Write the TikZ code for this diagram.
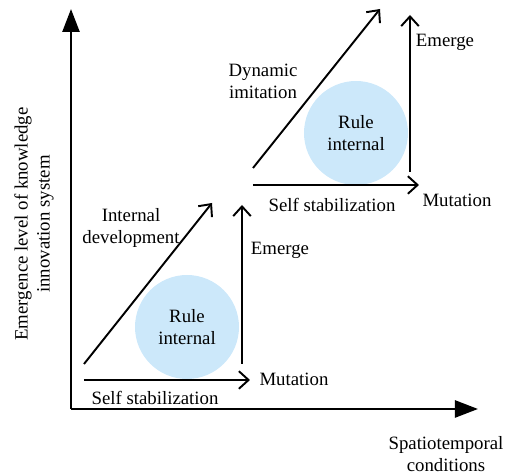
\documentclass[tikz,border=0pt]{standalone}
\usepackage{fontspec}
\setmainfont{Liberation Serif}
\usetikzlibrary{arrows.meta}
\definecolor{rulefill}{RGB}{204,232,250}

\begin{document}
\begin{tikzpicture}[
    font=\fontsize{10.7}{12.5}\selectfont,
    axis/.style={line width=1.4pt, -{Triangle[length=0.46cm, width=0.34cm]}},
    flow/.style={line width=1.1pt, -{Straight Barb[length=5.5pt, width=10pt, line width=1.1pt]}},
    rulecircle/.style={circle, fill=rulefill, minimum size=2.08cm, inner sep=0pt, align=center},
    lbl/.style={align=center, inner sep=1pt}]
    \useasboundingbox (0, 0) rectangle (10.12, 9.5);

    % Axes
    \coordinate (origin) at (1.42, 1.32);
    \coordinate (ytop) at (1.42, 9.32);
    \coordinate (xend) at (9.56, 1.32);
    \draw[axis] (origin) -- (ytop);
    \draw[axis] (origin) -- (xend);
    \node[lbl, rotate=90] (ylabel) at (0.68, 5.02) {Emergence level of knowledge\\innovation system};
    \node[lbl] (xlabel) at (8.92, 0.42) {Spatiotemporal\\conditions};

    % Lower stage
    \node[rulecircle] (rulelow) at (3.74, 2.96) {Rule\\internal};
    \coordinate (difflow) at (1.68, 2.22);
    \coordinate (diftlow) at (4.24, 5.44);
    \coordinate (emgfromlow) at (4.84, 2.22);
    \coordinate (emgtolow) at (4.84, 5.40);
    \coordinate (stabfromlow) at (1.68, 1.90);
    \coordinate (stabtolow) at (5.00, 1.90);
    \draw[flow] (difflow) -- (diftlow);
    \draw[flow] (emgfromlow) -- (emgtolow);
    \draw[flow] (stabfromlow) -- (stabtolow);
    \node[lbl] (intdev) at (2.62, 4.94) {Internal\\development};
    \node[lbl] (emglow) at (5.60, 4.50) {Emerge};
    \node[lbl] (mutlow) at (5.88, 1.92) {Mutation};
    \node[lbl] (stablow) at (3.10, 1.54) {Self stabilization};

    % Upper stage
    \node[rulecircle] (ruleup) at (7.12, 6.84) {Rule\\internal};
    \coordinate (diffup) at (5.06, 6.14);
    \coordinate (diftup) at (7.60, 9.32);
    \coordinate (emgfromup) at (8.20, 6.06);
    \coordinate (emgtoup) at (8.20, 9.20);
    \coordinate (stabfromup) at (5.06, 5.80);
    \coordinate (stabtoup) at (8.38, 5.80);
    \draw[flow] (diffup) -- (diftup);
    \draw[flow] (emgfromup) -- (emgtoup);
    \draw[flow] (stabfromup) -- (stabtoup);
    \node[lbl] (dynimi) at (5.26, 7.88) {Dynamic\\imitation};
    \node[lbl] (emgup) at (8.90, 8.66) {Emerge};
    \node[lbl] (mutup) at (9.14, 5.50) {Mutation};
    \node[lbl] (stabup) at (6.64, 5.40) {Self stabilization};
\end{tikzpicture}
\end{document}
